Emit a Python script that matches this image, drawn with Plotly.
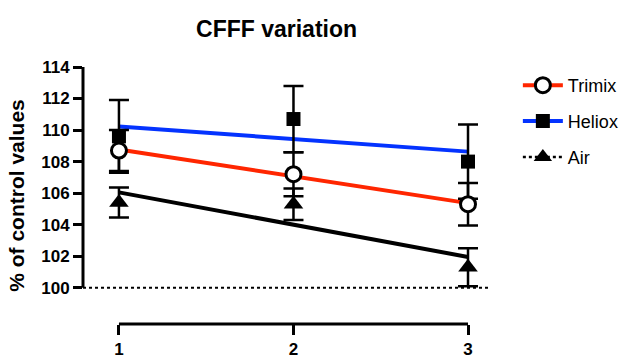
import numpy as np
import plotly.graph_objects as go

title = "CFFF variation"
y_title = "% of control values"
x_vals = [1, 2, 3]
x_ticks = ["1", "2", "3"]
y_ticks = [100, 102, 104, 106, 108, 110, 112, 114]

trimix_mean = [108.7, 107.2, 105.3]
trimix_err = [1.3, 1.4, 1.35]
heliox_mean = [109.6, 110.7, 108.0]
heliox_err = [2.3, 2.1, 2.35]
air_mean = [105.4, 105.3, 101.3]
air_err = [0.95, 1.0, 1.2]

RED = "#FF2600"
BLUE = "#0433FF"
BLACK = "#000000"
FONT = "Arial, Liberation Sans, Helvetica, sans-serif"

series = [
    ("Air", air_mean, air_err, BLACK, "triangle-up", BLACK, 17, 0, "dot"),
    ("Heliox", heliox_mean, heliox_err, BLUE, "square", BLACK, 14, 0, "solid"),
    ("Trimix", trimix_mean, trimix_err, RED, "circle", "white", 15, 3, "solid"),
]

fig = go.Figure()

# regression lines
for name, m, e, col, sym, fill, size, lw, dash in series:
    slope, icpt = np.polyfit(x_vals, m, 1)
    xs = np.array([x_vals[0], x_vals[-1]])
    fig.add_trace(go.Scatter(x=xs, y=slope * xs + icpt, mode="lines",
                             line=dict(color=col, width=4),
                             showlegend=False, hoverinfo="skip", cliponaxis=False))

# data points with error bars
for name, m, e, col, sym, fill, size, lw, dash in series:
    fig.add_trace(go.Scatter(
        x=x_vals, y=m, mode="markers", showlegend=False, cliponaxis=False,
        marker=dict(symbol=sym, size=size, color=fill, line=dict(color=BLACK, width=lw)),
        error_y=dict(type="data", array=e, visible=True, color=BLACK, thickness=2.5, width=10),
    ))

# legend entries
for i, (name, m, e, col, sym, fill, size, lw, dash) in enumerate(
        [series[2], series[1], series[0]]):
    fig.add_trace(go.Scatter(
        x=[None], y=[None], mode="lines+markers", name=name, legendgroup=name,
        line=dict(color=col, width=4 if dash == "solid" else 2.5, dash=dash),
        marker=dict(symbol=sym, size=size, color=fill, line=dict(color=BLACK, width=lw)),
    ))

fig.update_layout(
    width=630, height=358,
    margin=dict(l=83, r=140, t=67, b=34, autoexpand=False),
    paper_bgcolor="white", plot_bgcolor="white",
    font=dict(family=FONT, color="black"),
    title=dict(text="<b>" + title + "</b>", x=0.439, xref="container", y=0.919,
               yref="container", xanchor="center", yanchor="middle", font=dict(size=23)),
    showlegend=True,
    legend=dict(x=0.822, xref="container", y=1.0, xanchor="left", yanchor="top",
                font=dict(size=18), tracegroupgap=9.5, traceorder="grouped",
                itemwidth=40, bgcolor="rgba(0,0,0,0)"),
    xaxis=dict(range=[0.794, 3.126], tickvals=x_vals, ticktext=["<b>%s</b>" % t for t in x_ticks],
               showgrid=False, zeroline=False, showline=False, automargin=False,
               ticks="outside", ticklen=10, tickwidth=3, tickcolor="black",
               tickfont=dict(size=17)),
    yaxis=dict(range=[97.7, 114], tickvals=y_ticks, ticktext=["<b>%d</b>" % t for t in y_ticks],
               showgrid=False, zeroline=False, showline=False, automargin=False,
               ticks="outside", ticklen=9, tickwidth=3, tickcolor="black",
               tickfont=dict(size=17),
               title=dict(text="<b>" + y_title + "</b>", font=dict(size=21), standoff=10)),
    shapes=[
        dict(type="line", xref="x domain", yref="y", x0=0, x1=0, y0=100, y1=114,
             line=dict(color="black", width=3)),
        dict(type="line", xref="x", yref="y domain", x0=1, x1=3, y0=0, y1=0,
             line=dict(color="black", width=3)),
        dict(type="line", xref="x domain", yref="y", x0=0, x1=1, y0=100, y1=100,
             line=dict(color="black", width=2, dash="dot")),
    ],
)

fig.write_html("out.html", config={"displayModeBar": False},
               post_script="document.body.style.margin='0';")
